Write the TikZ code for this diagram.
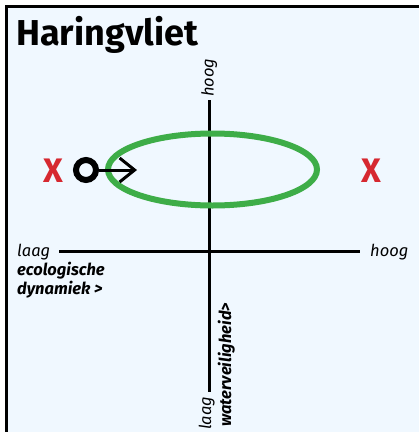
\documentclass[tikz,border=0pt]{standalone}
\usepackage{fontspec}
\setmainfont{Fira Sans}
\usetikzlibrary{arrows.meta,shapes.geometric}
\definecolor{bgblue}{HTML}{F0F8FF}
\definecolor{zonegreen}{HTML}{3EAD48}
\definecolor{markred}{HTML}{D62830}
\tikzset{
  frame/.style={line width=2.6pt, draw=black, fill=bgblue},
  titletext/.style={font=\fontsize{36}{40}\selectfont\bfseries, inner sep=0pt},
  axis/.style={line width=3pt, draw=black},
  axlabel/.style={font=\fontsize{16.5}{19}\selectfont\itshape, inner sep=0pt},
  axname/.style={font=\fontsize{16.5}{19}\selectfont\bfseries\itshape, inner sep=0pt},
  zone/.style={ellipse, draw=zonegreen, line width=6pt, inner sep=0pt, minimum width=209pt, minimum height=72pt},
  cross/.style={font=\fontsize{34}{36}\selectfont\bfseries, text=markred, inner sep=0pt},
  ring/.style={circle, draw=black, line width=6pt, inner sep=0pt, minimum size=20pt},
  move/.style={line width=3pt, -{Straight Barb[length=15pt,width=24pt,line width=3pt]}}
}
\begin{document}
\begin{tikzpicture}[x=1pt,y=-1pt]
\useasboundingbox (0,0) rectangle (419,432);
\clip (0,0) rectangle (419,432);
\fill[white] (0,0) rectangle (419,432);
\draw[frame] (6.3,6.6) rectangle (440,450);
\node[titletext, anchor=base west] (title) at (16,45.5) {Haringvliet};
% axes
\coordinate (hl) at (59,251.5);
\coordinate (hr) at (360,251.5);
\coordinate (vt) at (209,100);
\coordinate (vb) at (209,392);
\draw[axis] (hl) -- (hr);
\draw[axis] (vt) -- (vb);
% horizontal axis labels
\node[axlabel, anchor=base west] (xlow) at (17,256) {laag};
\node[axlabel, anchor=base west] (xhigh) at (370,256) {hoog};
\node[axname, anchor=base west] (xname1) at (17,275.5) {ecologische};
\node[axname, anchor=base west] (xname2) at (17,294.5) {dynamiek >};
% vertical axis labels
\node[axlabel, rotate=90, anchor=base west] (yhigh) at (213.5,97) {hoog};
\node[axlabel, rotate=90, anchor=base west] (ylow) at (211,430) {laag};
\node[axname, rotate=90, anchor=base west] (yname) at (231,427) {waterveiligheid>};
% zone
\node[zone] (zone) at (212.5,169.5) {};
% marks
\node[cross] (xleft) at (53,170.5) {X};
\node[cross] (xright) at (371,170.5) {X};
% start ring and arrow
\node[ring] (start) at (86,170) {};
\coordinate (tip) at (137,170);
\draw[move] (start.east) -- (tip);
\end{tikzpicture}
\end{document}
